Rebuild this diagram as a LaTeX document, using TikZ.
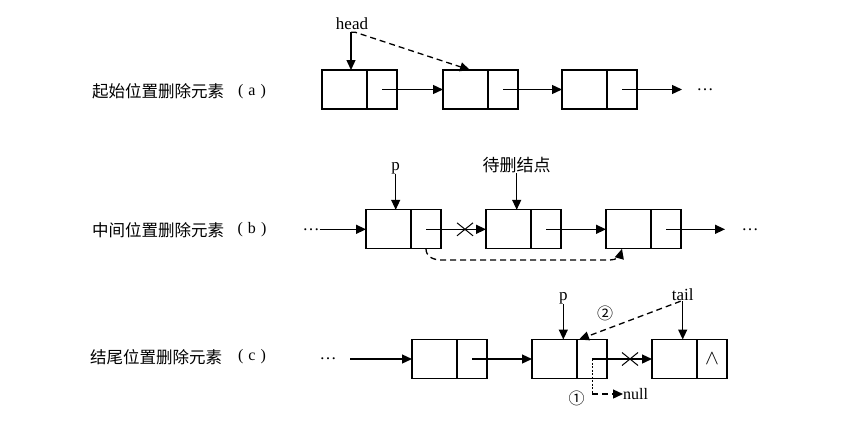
\documentclass[tikz,border=0pt]{standalone}
\usepackage{fontspec}
\setmainfont{Liberation Serif}
\newfontfamily\cjk{Noto Sans CJK SC}
\newfontfamily\dejavu{DejaVu Sans}
\usetikzlibrary{arrows.meta,shapes.misc,calc}
\begin{document}
\begin{tikzpicture}[x=1pt,y=-1pt,
  dat/.style={draw,line width=1.2pt,minimum width=45pt,minimum height=39pt,inner sep=0pt,outer sep=0pt},
  ptr/.style={draw,line width=1.2pt,minimum width=30pt,minimum height=39pt,inner sep=0pt,outer sep=0pt},
  arr/.style={line width=1.3pt,-{Triangle[length=10pt,width=9pt]}},
  dsh/.style={arr,dash pattern=on 6pt off 4pt},
  lbl/.style={font=\cjk\fontsize{16.5}{19}\selectfont,anchor=west,inner sep=0pt},
  par/.style={font=\fontsize{16}{18}\selectfont,inner sep=0pt},
  txt/.style={font=\fontsize{17}{19}\selectfont,inner sep=0pt},
  xmark/.style={cross out,draw,line width=1pt,minimum width=15pt,minimum height=12pt,inner sep=0pt}
]
\useasboundingbox (0,0) rectangle (865,424);

% ---------- labels ----------
\node[lbl] (la) at (92,91.7) {起始位置删除元素};
\node[par] (pa) at (252,91.7) {(\hspace{5pt}a\hspace{5pt})};
\node[lbl] (lb) at (92,230) {中间位置删除元素};
\node[par] (pb) at (252,230) {(\hspace{5pt}b\hspace{5pt})};
\node[lbl] (lc) at (90,356.7) {结尾位置删除元素};
\node[par] (pc) at (252,356.7) {(\hspace{5pt}c\hspace{5pt})};

% ---------- row (a) ----------
\node[dat] (a1d) at (344.5,89.5) {};
\node[ptr] (a1p) at (382,89.5) {};
\node[dat] (a2d) at (465.5,89.5) {};
\node[ptr] (a2p) at (503,89.5) {};
\node[dat] (a3d) at (584.5,89.5) {};
\node[ptr] (a3p) at (622,89.5) {};
\node[txt] (adots) at (705,89.5) {…};
\coordinate (aend) at (682,89.5);
\draw[arr] (a1p.center) -- (a2d.west);
\draw[arr] (a2p.center) -- (a3d.west);
\draw[arr] (a3p.center) -- (aend);
\node[txt] (head) at (352,24) {head};
\draw[arr] ([xshift=-1pt,yshift=-2pt]head.south) -- ([xshift=-1pt]head.south |- a1d.north);
\draw[dsh] ([xshift=-1pt,yshift=-2pt]head.south) -- ++(4,0) -- ([xshift=4.5pt]a2d.north);

% ---------- row (b) ----------
\node[txt] (bdl) at (311,229.3) {…};
\node[dat] (b1d) at (388.5,229.3) {};
\node[ptr] (b1p) at (426,229.3) {};
\node[dat] (b2d) at (508.5,229.3) {};
\node[ptr] (b2p) at (546,229.3) {};
\node[dat] (b3d) at (628.5,229.3) {};
\node[ptr] (b3p) at (666,229.3) {};
\node[txt] (bdr) at (750,229.3) {…};
\coordinate (bend) at (725,229.3);
\draw[arr] (bdl.east) -- (b1d.west);
\draw[arr] (b1p.center) -- (b2d.west);
\draw[arr] (b2p.center) -- (b3d.west);
\draw[arr] (b3p.center) -- (bend);
\node[xmark] (xb) at (465,229.3) {};
\node[txt] (pb1) at (395.7,168) {p};
\draw[arr] (pb1.south) -- (pb1.south |- b1d.north);
\node[font=\cjk\fontsize{17}{19}\selectfont,inner sep=0pt] (del) at (516.7,165) {待删结点};
\draw[arr] (del.south) -- (del.south |- b2d.north);
\coordinate (bc1) at (442,260);
\coordinate (bc2) at (610,260);
\draw[dsh] (b1p.south) .. controls (426,256) and (432,260) .. (bc1) -- (bc2)
  .. controls (616,260) and (620,256) .. ([xshift=-6.5pt]b3d.south);

% ---------- row (c) ----------
\node[txt] (cdl) at (328,359) {…};
\coordinate (cst) at (350,359);
\node[dat] (c1d) at (434.5,359) {};
\node[ptr] (c1p) at (472,359) {};
\node[dat] (c2d) at (554.5,359) {};
\node[ptr] (c2p) at (592,359) {};
\node[dat] (c3d) at (674.5,359) {};
\node[ptr] (c3p) at (712,359) {\fontsize{20}{22}\selectfont$\wedge$};
\draw[arr] (cst) -- (c1d.west);
\draw[arr] (c1p.center) -- (c2d.west);
\draw[arr] (c2p.center) -- (c3d.west);
\node[xmark] (xc) at (630,359) {};
\node[txt] (pc1) at (563.3,298.3) {p};
\draw[arr] (pc1.south) -- (pc1.south |- c2d.north);
\node[txt] (tail) at (682.7,295) {tail};
\draw[arr] (tail.south) -- (tail.south |- c3d.north);
\draw[dsh] ([xshift=-2pt]tail.south) -- ([xshift=2pt]c2p.north west);
\node[font=\cjk\fontsize{16}{18}\selectfont,inner sep=0pt] (two) at (605,313) {②};
\node[font=\fontsize{16}{18}\selectfont,anchor=west,inner sep=0pt] (null) at (623,394) {null};
\draw[line width=0.9pt,dash pattern=on 2pt off 1.5pt] (c2p.center) -- (c2p.center |- null.west);
\draw[dsh] (c2p.center |- null.west) -- (null.west);
\node[font=\cjk\fontsize{16}{18}\selectfont,inner sep=0pt] (one) at (576.7,398) {①};
\end{tikzpicture}
\end{document}
